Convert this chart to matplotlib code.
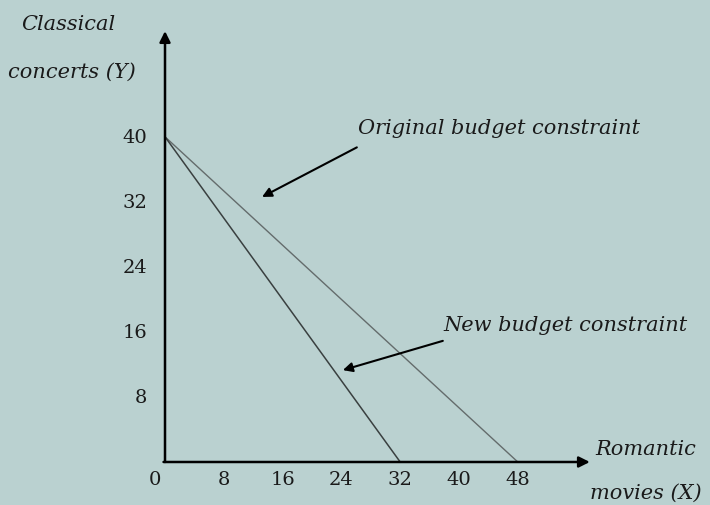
import matplotlib
matplotlib.use("Agg")
import matplotlib.pyplot as plt

# Data
x_ticks = [8, 16, 24, 32, 40, 48]
y_ticks = [8, 16, 24, 32, 40]
original_x = [0, 48]
original_y = [40, 0]
new_x = [0, 32]
new_y = [40, 0]

BG = "#bad1d0"
FONT = "DejaVu Serif"

fig = plt.figure(figsize=(7.10, 5.06), dpi=100, facecolor=BG)
ax = fig.add_axes([0, 0, 1, 1])
ax.set_facecolor(BG)
ax.set_xlim(-22.45, 74.15)
ax.set_ylim(-5.29, 56.95)
ax.axis("off")

# Budget lines
ax.plot(original_x, original_y, color="#646c6c", lw=1.0)
ax.plot(new_x, new_y, color="#3a4040", lw=1.1)

# Axes with arrows
arrow_kw = dict(arrowstyle="-|>", color="black", lw=1.8, mutation_scale=16,
                shrinkA=0, shrinkB=0)
ax.annotate("", xy=(0, 53.0), xytext=(0, 0), arrowprops=arrow_kw)
ax.annotate("", xy=(57.8, 0), xytext=(-0.2, 0), arrowprops=arrow_kw)

# Tick labels
for v in y_ticks:
    ax.text(-2.4, v, str(v), ha="right", va="center", fontsize=14,
            family=FONT, color="#1a1a1a")
for v in x_ticks:
    ax.text(v, -2.1, str(v), ha="center", va="center", fontsize=14,
            family=FONT, color="#1a1a1a")
ax.text(-1.4, -2.1, "0", ha="center", va="center", fontsize=14,
        family=FONT, color="#1a1a1a")

# Axis titles
it = dict(fontsize=15, family=FONT, style="italic", color="#1a1a1a",
          ha="left", va="center")
ax.text(-19.5, 53.9, "Classical", **it)
ax.text(-21.3, 48.0, "concerts (Y)", **it)
ax.text(58.6, 1.6, "Romantic", **it)
ax.text(57.8, -3.7, "movies (X)", **it)

# Annotations
ann_kw = dict(arrowstyle="-|>", color="black", lw=1.5, mutation_scale=14,
              shrinkA=0, shrinkB=0)
ax.text(26.3, 41.2, "Original budget constraint", **it)
ax.annotate("", xy=(13.2, 32.6), xytext=(26.1, 38.7), arrowprops=ann_kw)
ax.text(37.9, 16.9, "New budget constraint", **it)
ax.annotate("", xy=(24.2, 11.3), xytext=(37.8, 14.9), arrowprops=ann_kw)

fig.savefig("out.png", dpi=100, facecolor=BG)
